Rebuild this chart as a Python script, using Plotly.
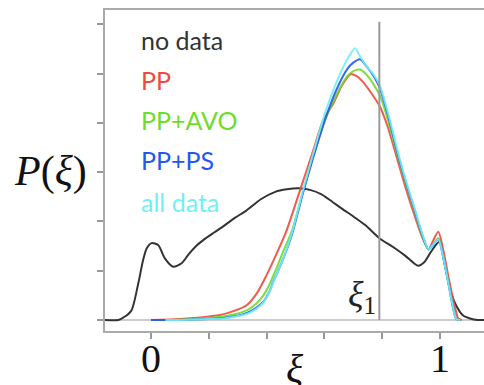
import plotly.graph_objects as go

# ---- data ----
nodata_x = [-0.16, -0.113, -0.09, -0.067, -0.044, -0.027, -0.015, 0.002, 0.025, 0.048, 0.077,
            0.106, 0.13, 0.16, 0.19, 0.22, 0.25, 0.29, 0.33, 0.38, 0.43, 0.47, 0.51, 0.55, 0.59,
            0.62, 0.66, 0.70, 0.74, 0.79, 0.84, 0.88, 0.91, 0.925, 0.945, 0.965, 0.985, 1.0,
            1.012, 1.025, 1.035, 1.058, 1.08, 1.104, 1.13, 1.16]
nodata_y = [0, 0, 0.07, 0.2, 0.74, 1.22, 1.45, 1.56, 1.52, 1.25, 1.08,
            1.15, 1.33, 1.52, 1.66, 1.78, 1.90, 2.07, 2.22, 2.45, 2.60, 2.65, 2.67, 2.64, 2.55,
            2.43, 2.26, 2.10, 1.93, 1.66, 1.47, 1.30, 1.15, 1.10, 1.17, 1.35, 1.52, 1.60,
            1.25, 0.88, 0.61, 0.27, 0.09, 0.03, 0, 0]

pp_x = [0.0, 0.1, 0.17, 0.239, 0.285, 0.331, 0.366, 0.40, 0.435, 0.47, 0.516, 0.562, 0.596,
        0.63, 0.66, 0.691, 0.71, 0.73, 0.76, 0.792, 0.82, 0.85, 0.88, 0.91, 0.94, 0.96, 0.975,
        0.994, 1.01, 1.03, 1.05, 1.063, 1.075]
pp_y = [0, 0.02, 0.05, 0.1, 0.18, 0.30, 0.54, 0.91, 1.35, 1.83, 2.64, 3.45, 4.06,
        4.38, 4.75, 4.99, 4.95, 4.85, 4.62, 4.33, 3.9, 3.3, 2.7, 2.15, 1.65, 1.43, 1.6,
        1.79, 1.45, 0.85, 0.3, 0.03, 0]

grid_x = [0.0, 0.1, 0.2, 0.25, 0.285, 0.32, 0.342, 0.365, 0.389, 0.41, 0.423, 0.44, 0.458,
          0.487, 0.527, 0.56, 0.602, 0.64, 0.68, 0.70, 0.723, 0.745, 0.77, 0.792, 0.82, 0.85,
          0.88, 0.91, 0.94, 0.96, 0.975, 0.994, 1.01, 1.029, 1.045, 1.056, 1.07]
avo_y = [0, 0.005, 0.04, 0.07, 0.11, 0.17, 0.23, 0.34, 0.5, 0.72, 0.9, 1.13, 1.4,
         1.8, 2.62, 3.3, 4.05, 4.55, 4.95, 5.05, 5.08, 4.98, 4.78, 4.55, 4.05, 3.4,
         2.8, 2.25, 1.68, 1.43, 1.53, 1.66, 1.32, 0.76, 0.26, 0.02, 0]
ps_y = [0, 0, 0.02, 0.04, 0.07, 0.12, 0.17, 0.25, 0.37, 0.58, 0.78, 1.0, 1.25,
        1.72, 2.6, 3.27, 4.06, 4.65, 5.1, 5.22, 5.29, 5.15, 4.95, 4.70, 4.15, 3.45,
        2.83, 2.27, 1.70, 1.43, 1.52, 1.64, 1.3, 0.74, 0.25, 0.02, 0]

all_x = [0.05, 0.1, 0.2, 0.25, 0.285, 0.32, 0.342, 0.365, 0.389, 0.41, 0.423, 0.44, 0.458,
         0.487, 0.527, 0.56, 0.602, 0.64, 0.68, 0.706, 0.723, 0.745, 0.77, 0.792, 0.82, 0.85,
         0.88, 0.91, 0.94, 0.96, 0.975, 0.994, 1.01, 1.029, 1.045, 1.056, 1.07]
all_y = [0, 0, 0.02, 0.03, 0.06, 0.1, 0.15, 0.23, 0.36, 0.57, 0.77, 1.0, 1.25,
         1.75, 2.65, 3.35, 4.2, 4.8, 5.3, 5.51, 5.35, 5.15, 4.98, 4.75, 4.2, 3.5,
         2.86, 2.3, 1.72, 1.43, 1.52, 1.64, 1.3, 0.74, 0.25, 0.02, 0]

series_names = ["no data", "PP", "PP+AVO", "PP+PS", "all data"]
series_colors = ["#333333", "#ee4b3b", "#6fdc2a", "#2457f0", "#6ff0f8"]
xi1 = 0.79
x_tickvals = [0, 1]
x_ticktext = ["0", "1"]
x_minor_ticks = [0.2, 0.4, 0.6, 0.8]
y_tickvals = [0, 1, 2, 3, 4, 5, 6]

series = [(nodata_x, nodata_y), (pp_x, pp_y), (grid_x, avo_y), (grid_x, ps_y), (all_x, all_y)]

fig = go.Figure()
for (xs, ys), name, col in zip(series, series_names, series_colors):
    fig.add_trace(go.Scatter(x=xs, y=ys, mode="lines", name=name,
                             line=dict(color=col, width=2, shape="spline", smoothing=0.7),
                             opacity=0.9 if name != "no data" else 1.0,
                             showlegend=False))

# vertical xi_1 line
fig.add_shape(type="line", xref="x", yref="y", x0=xi1, x1=xi1, y0=0, y1=6.05,
              line=dict(color="#9a9a9a", width=2))

# legend-like labels
label_y = [0.907, 0.782, 0.657, 0.533, 0.403]
for name, col, yy in zip(series_names, series_colors, label_y):
    fig.add_annotation(text=name, xref="paper", yref="paper", x=0.090, y=yy,
                       xanchor="left", yanchor="middle", showarrow=False,
                       font=dict(family="Lato", size=25, color=col))

serif = "Liberation Serif"
fig.add_annotation(text="<i>P</i>(<i>ξ</i>)", xref="paper", yref="paper", x=-0.143, y=0.496,
                   xanchor="center", yanchor="middle", showarrow=False,
                   font=dict(family=serif, size=42, color="#111111"))
fig.add_annotation(text="<i>ξ</i>", xref="paper", yref="paper", x=0.5, y=-0.118,
                   xanchor="center", yanchor="middle", showarrow=False,
                   font=dict(family=serif, size=40, color="#111111"))
fig.add_annotation(text="<i>ξ</i><sub>1</sub>", xref="x", yref="y", x=xi1 - 0.006, y=0.47,
                   xanchor="right", yanchor="middle", showarrow=False,
                   font=dict(family=serif, size=36, color="#222222"))

fig.update_layout(
    width=484, height=385,
    margin=dict(l=105, r=0, t=10, b=54),
    paper_bgcolor="white", plot_bgcolor="white",
    xaxis=dict(range=[-0.159, 1.152], tickmode="array", tickvals=x_tickvals, ticktext=x_ticktext,
               ticks="outside", ticklen=6, tickcolor="#999999", tickwidth=1.5,
               ticklabelstandoff=-15,
               minor=dict(tickmode="array", tickvals=x_minor_ticks, ticks="outside",
                          ticklen=6, tickcolor="#999999", tickwidth=1.5, showgrid=False),
               showline=True, linecolor="#aaaaaa", linewidth=2, mirror=True,
               showgrid=False, zeroline=False, automargin=False,
               tickfont=dict(family=serif, size=40, color="#111111")),
    yaxis=dict(range=[-0.223, 6.288], tickvals=y_tickvals, showticklabels=False,
               ticks="outside", ticklen=6, tickcolor="#999999", tickwidth=1.5,
               showline=True, linecolor="#aaaaaa", linewidth=2, mirror=False,
               showgrid=False, zeroline=True, zerolinecolor="#cccccc", zerolinewidth=2,
               automargin=False),
)

fig.write_html("out.html")
